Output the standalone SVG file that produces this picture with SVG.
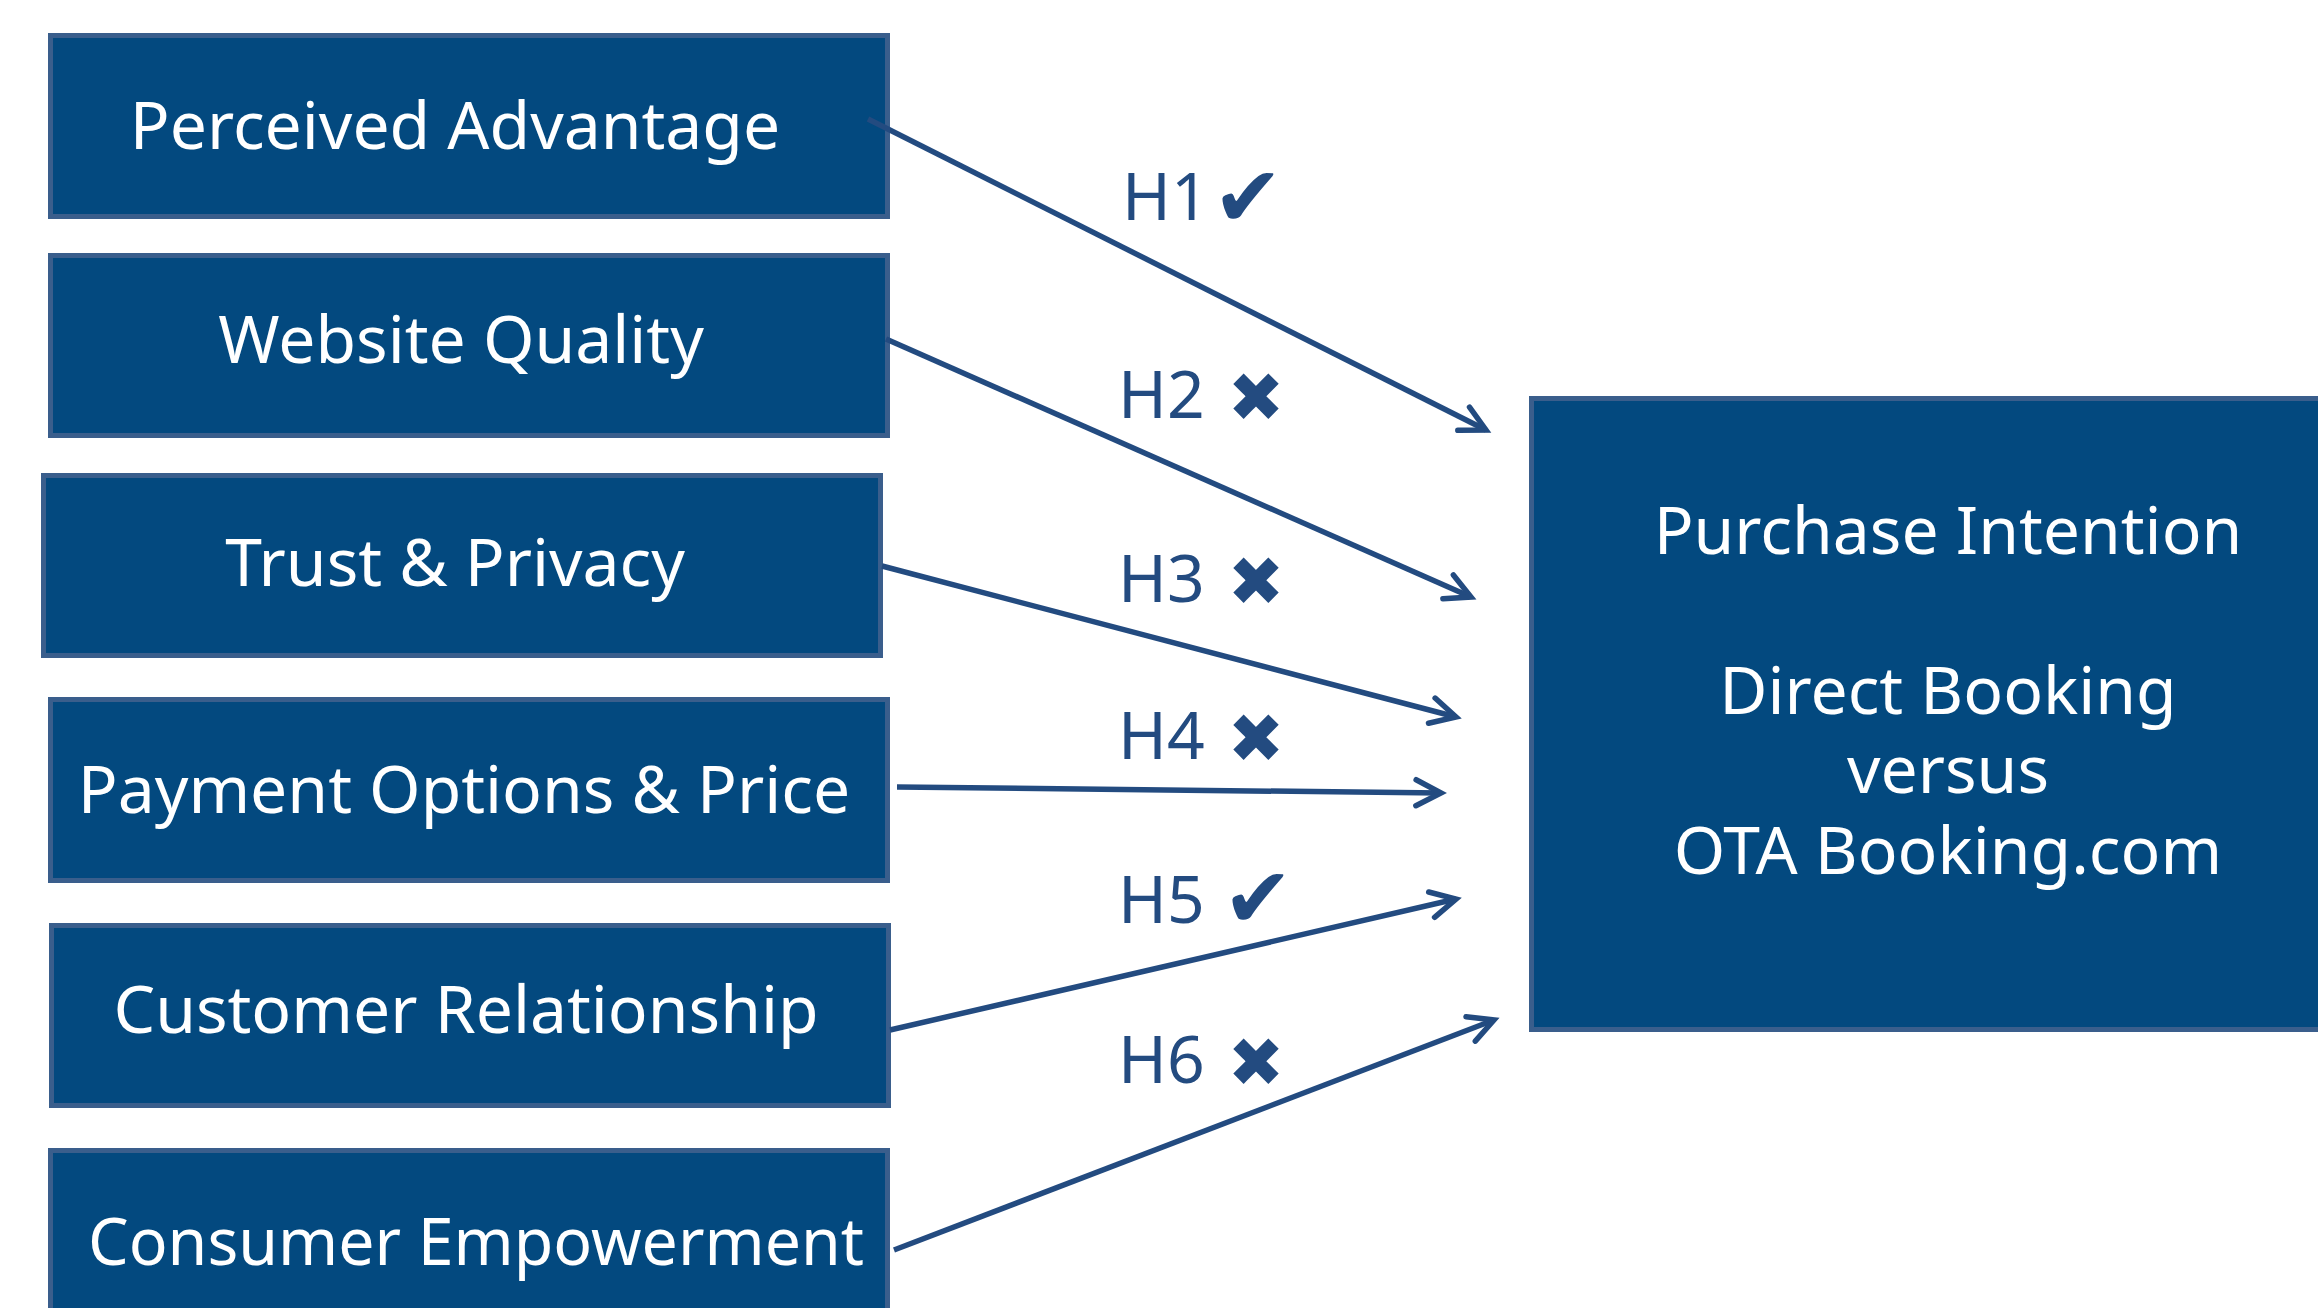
<svg xmlns="http://www.w3.org/2000/svg" width="2318" height="1308" viewBox="0 0 2318 1308">
  <defs>
    <style>
      .box { fill: #03497f; stroke: #3a5e8c; stroke-width: 5; }
      .lbl { fill: #ffffff; font-family: "Noto Sans", "Liberation Sans", sans-serif; font-size: 66px; text-anchor: middle; }
      .hyp { fill: #234b80; font-family: "Noto Sans", "Liberation Sans", sans-serif; font-size: 66px; }
      .ok { fill: #234b80; font-family: "DejaVu Sans", sans-serif; font-size: 84px; text-anchor: middle; }
      .no { fill: #234b80; font-family: "DejaVu Sans", sans-serif; font-size: 68px; text-anchor: middle; }
      .edge { fill: none; stroke: #234b80; stroke-width: 5.5; marker-end: url(#head); }
    </style>
    <marker id="head" markerUnits="userSpaceOnUse" orient="auto" refX="0" refY="0" markerWidth="60" markerHeight="60" viewBox="-40 -30 60 60" overflow="visible">
      <path d="M -25 -13 L 0 0 L -25 13" fill="none" stroke="#234b80" stroke-width="5.5" stroke-linecap="round" stroke-linejoin="miter"/>
    </marker>
  </defs>

  <rect width="2318" height="1308" fill="#ffffff"/>

  <!-- factor boxes -->
  <g id="perceived-advantage">
    <rect class="box" x="50.5" y="35.5" width="837" height="181"/>
    <text class="lbl" x="455" y="149">Perceived Advantage</text>
  </g>
  <g id="website-quality">
    <rect class="box" x="50.5" y="255.5" width="837" height="180"/>
    <text class="lbl" x="461" y="363">Website Quality</text>
  </g>
  <g id="trust-privacy">
    <rect class="box" x="43.5" y="475.5" width="837" height="180"/>
    <text class="lbl" x="455" y="586">Trust &amp; Privacy</text>
  </g>
  <g id="payment-price">
    <rect class="box" x="50.5" y="699.5" width="837" height="181"/>
    <text class="lbl" x="464" y="813">Payment Options &amp; Price</text>
  </g>
  <g id="customer-relationship">
    <rect class="box" x="51.5" y="925.5" width="837" height="180"/>
    <text class="lbl" x="466" y="1033">Customer Relationship</text>
  </g>
  <g id="consumer-empowerment">
    <rect class="box" x="50.5" y="1150.5" width="837" height="200"/>
    <text class="lbl" x="476" y="1265" textLength="776" lengthAdjust="spacingAndGlyphs">Consumer Empowerment</text>
  </g>

  <!-- outcome box -->
  <g id="purchase-intention">
    <rect class="box" x="1531.5" y="398.5" width="820" height="631"/>
    <text class="lbl" x="1948" y="554">Purchase Intention</text>
    <text class="lbl" x="1948" y="714">Direct Booking</text>
    <text class="lbl" x="1948" y="793">versus</text>
    <text class="lbl" x="1948" y="874">OTA Booking.com</text>
  </g>

  <!-- hypothesis arrows -->
  <g id="connectors">
    <line class="edge" x1="868" y1="119" x2="1486" y2="430"/>
    <line class="edge" x1="886" y1="339" x2="1471" y2="597"/>
    <line class="edge" x1="882" y1="566" x2="1456" y2="717"/>
    <line class="edge" x1="897" y1="787" x2="1441" y2="793"/>
    <line class="edge" x1="890" y1="1030" x2="1456" y2="899"/>
    <line class="edge" x1="894" y1="1250" x2="1494" y2="1020"/>
  </g>

  <!-- hypothesis labels with outcome marks -->
  <g id="hypotheses">
    <text class="hyp" x="1122" y="220">H1</text>
    <text class="ok" x="1248" y="226">✔</text>
    <text class="hyp" x="1118" y="418">H2</text>
    <text class="no" x="1256" y="421">✖</text>
    <text class="hyp" x="1118" y="602">H3</text>
    <text class="no" x="1256" y="605">✖</text>
    <text class="hyp" x="1118" y="759">H4</text>
    <text class="no" x="1256" y="762">✖</text>
    <text class="hyp" x="1118" y="923">H5</text>
    <text class="ok" x="1258" y="927">✔</text>
    <text class="hyp" x="1118" y="1083">H6</text>
    <text class="no" x="1256" y="1086">✖</text>
  </g>
</svg>
